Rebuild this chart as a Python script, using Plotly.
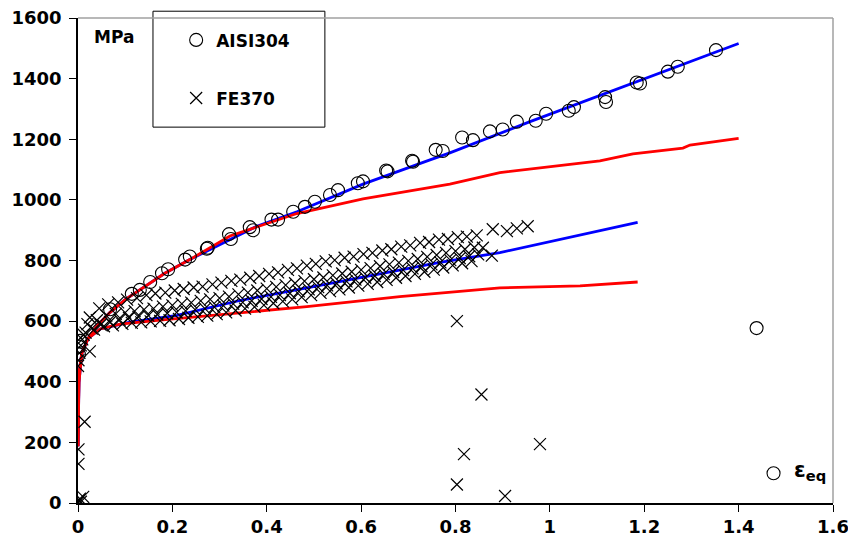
import plotly.graph_objects as go

# AISI304 measured points (equivalent strain, stress MPa)
aisi_eps = [0.002, 0.002, 0.004, 0.068, 0.114, 0.131, 0.153, 0.178, 0.191, 0.227,
            0.237, 0.273, 0.275, 0.320, 0.324, 0.364, 0.371, 0.410, 0.424, 0.456,
            0.481, 0.502, 0.534, 0.551, 0.593, 0.604, 0.653, 0.656, 0.708, 0.710,
            0.758, 0.773, 0.814, 0.837, 0.873, 0.900, 0.930, 0.970, 0.992, 1.040,
            1.051, 1.117, 1.119, 1.184, 1.191, 1.250, 1.271, 1.352, 1.438, 1.474]
aisi_sig = [490, 516, 535, 639, 690, 703, 729, 758, 771, 803,
            813, 839, 842, 887, 871, 910, 900, 935, 935, 961,
            977, 994, 1016, 1032, 1055, 1061, 1097, 1094, 1129, 1126,
            1165, 1161, 1206, 1197, 1226, 1232, 1258, 1261, 1284, 1294,
            1306, 1339, 1323, 1387, 1384, 1423, 1439, 1494, 577, 98]

# FE370 measured points
fe_eps = [0.000, 0.002, 0.004, 0.006, 0.011, 0.001, 0.001, 0.014, 0.000, 0.001,
          0.003, 0.006, 0.009, 0.012, 0.025,
          0.016, 0.020, 0.025, 0.029, 0.034, 0.040, 0.045, 0.048,
          0.055, 0.060, 0.064, 0.068, 0.074, 0.080, 0.085, 0.088,
          0.094, 0.100, 0.104, 0.108, 0.114, 0.120, 0.125, 0.128,
          0.134, 0.140, 0.145, 0.149, 0.154, 0.160, 0.164, 0.168,
          0.174, 0.180, 0.185, 0.189, 0.194, 0.200, 0.205, 0.209,
          0.214, 0.220, 0.224, 0.228, 0.234, 0.240, 0.245, 0.248,
          0.254, 0.260, 0.264, 0.269, 0.274, 0.280, 0.285, 0.289,
          0.294, 0.300, 0.304, 0.308, 0.314, 0.320, 0.325, 0.329,
          0.334, 0.340, 0.344, 0.349, 0.354, 0.360, 0.365, 0.368,
          0.374, 0.380, 0.384, 0.389, 0.394, 0.400, 0.405, 0.409,
          0.414, 0.420, 0.424, 0.428, 0.434, 0.440, 0.445, 0.449,
          0.454, 0.460, 0.464, 0.468, 0.474, 0.480, 0.485, 0.489,
          0.494, 0.500, 0.504, 0.509, 0.514, 0.520, 0.525, 0.528,
          0.534, 0.540, 0.544, 0.548, 0.554, 0.560, 0.565, 0.569,
          0.574, 0.580, 0.584, 0.588, 0.594, 0.600, 0.605, 0.609,
          0.614, 0.620, 0.624, 0.629, 0.634, 0.640, 0.645, 0.648,
          0.654, 0.660, 0.664, 0.668, 0.674, 0.680, 0.685, 0.689,
          0.694, 0.700, 0.704, 0.709, 0.714, 0.720, 0.725, 0.728,
          0.734, 0.740, 0.744, 0.749, 0.754, 0.760, 0.765, 0.768,
          0.774, 0.780, 0.784, 0.789, 0.794, 0.800, 0.805, 0.809,
          0.814, 0.820, 0.824, 0.829, 0.834, 0.840, 0.845, 0.848,
          0.858, 0.877, 0.879, 0.909, 0.930, 0.953,
          0.803, 0.855, 0.818, 0.803, 0.979, 0.905]
fe_sig = [2, 8, 14, 4, 20, 129, 177, 268, 452, 471,
          495, 520, 540, 555, 500,
          562, 590, 612, 575, 572, 603, 642, 588,
          583, 618, 655, 597, 586, 624, 662, 604,
          591, 628, 671, 611, 594, 633, 676, 614,
          596, 638, 686, 618, 599, 641, 691, 622,
          601, 648, 694, 626, 603, 652, 701, 629,
          607, 657, 706, 634, 611, 661, 711, 638,
          614, 667, 714, 641, 618, 672, 721, 646,
          623, 676, 727, 651, 629, 681, 733, 657,
          635, 688, 737, 662, 641, 694, 743, 667,
          647, 701, 749, 673, 653, 707, 756, 680,
          659, 713, 761, 686, 665, 719, 769, 692,
          672, 725, 774, 698, 679, 732, 783, 705,
          686, 738, 789, 712, 693, 744, 797, 718,
          699, 751, 801, 724, 705, 757, 809, 731,
          711, 763, 813, 737, 717, 769, 821, 743,
          723, 775, 825, 749, 729, 781, 833, 755,
          736, 787, 837, 762, 743, 793, 846, 768,
          749, 799, 850, 774, 756, 805, 858, 781,
          763, 812, 861, 787, 770, 818, 869, 794,
          777, 825, 871, 801, 784, 831, 877, 808,
          791, 837, 879, 814, 798, 843, 883, 820,
          842, 816, 903, 897, 906, 913,
          600, 358, 161, 61, 194, 23]

# model curves: blue and red, for each steel
aisi_blue_eps = [0.0, 0.001, 0.002, 0.008, 0.021, 0.040, 0.068, 0.100, 0.142, 0.184,
                 0.237, 0.379, 0.464, 0.604, 0.746, 0.788, 0.958, 1.169, 1.297, 1.400]
aisi_blue_sig = [187, 332, 429, 494, 542, 584, 629, 671, 716, 758,
                 803, 913, 961, 1052, 1132, 1155, 1258, 1381, 1455, 1516]
aisi_red_eps = [0.0, 0.001, 0.002, 0.008, 0.021, 0.040, 0.068, 0.100, 0.142, 0.184,
                0.237, 0.322, 0.464, 0.604, 0.788, 0.894, 1.106, 1.176, 1.282, 1.297, 1.400]
aisi_red_sig = [187, 332, 429, 494, 542, 584, 629, 671, 716, 758,
                803, 881, 955, 1003, 1052, 1090, 1129, 1152, 1171, 1181, 1203]
fe_blue_eps = [0.0, 0.002, 0.008, 0.021, 0.047, 0.110, 0.210, 0.343, 0.485, 0.625,
               0.767, 0.894, 1.064, 1.186]
fe_blue_sig = [187, 397, 494, 542, 574, 597, 619, 668, 710, 752,
               794, 826, 884, 926]
fe_red_eps = [0.0, 0.002, 0.008, 0.021, 0.047, 0.089, 0.174, 0.316, 0.485, 0.682,
              0.894, 1.064, 1.186]
fe_red_sig = [187, 397, 494, 542, 574, 590, 603, 623, 648, 681,
              710, 716, 729]

BLUE = "#0000ff"
RED = "#ff0000"
FONT = "DejaVu Sans, Arial, sans-serif"

fig = go.Figure()

for xs, ys, col in [(aisi_blue_eps, aisi_blue_sig, BLUE), (fe_blue_eps, fe_blue_sig, BLUE),
                    (aisi_red_eps, aisi_red_sig, RED), (fe_red_eps, fe_red_sig, RED)]:
    fig.add_trace(go.Scatter(x=xs, y=ys, mode="lines", line=dict(color=col, width=2.8),
                             showlegend=False, hoverinfo="skip"))

fig.add_trace(go.Scatter(
    x=aisi_eps, y=aisi_sig, mode="markers", name="AISI304", legendgroup="a",
    marker=dict(symbol="circle-open", size=13, color="black", line=dict(width=1.1)),
))
fig.add_trace(go.Scatter(
    x=fe_eps, y=fe_sig, mode="markers", name="FE370", legendgroup="b",
    marker=dict(symbol="x-thin-open", size=12, color="black", line=dict(width=1.2, color="black")),
))

# grey top/right frame
fig.add_shape(type="line", xref="paper", yref="paper", x0=0, x1=1, y0=1, y1=1,
              line=dict(color="#a0a0a0", width=1.5))
fig.add_shape(type="line", xref="paper", yref="paper", x0=1, x1=1, y0=0, y1=1,
              line=dict(color="#a0a0a0", width=1.5))
# legend box
fig.add_shape(type="rect", xref="paper", yref="paper", x0=0.0993, x1=0.327, y0=0.775, y1=1.014,
              line=dict(color="black", width=1), fillcolor="white", layer="below")

fig.add_annotation(text="MPa", xref="paper", yref="paper", x=0.0185, y=0.961,
                   xanchor="left", yanchor="middle", showarrow=False,
                   font=dict(family=FONT, size=17, color="black", weight="bold"))
fig.add_annotation(text="\u03b5<sub>eq</sub>", xref="paper", yref="paper", x=0.9457, y=0.066,
                   xanchor="left", yanchor="middle", showarrow=False,
                   font=dict(family=FONT, size=21, color="black", weight="bold"))

# the page body adds an 8px offset, so the figure is 8px smaller and margins shifted
fig.update_layout(
    width=848, height=548,
    margin=dict(l=70, r=23, t=10, b=53, autoexpand=False),
    paper_bgcolor="white", plot_bgcolor="white",
    font=dict(family=FONT, color="black"),
    showlegend=True,
    legend=dict(x=0.13, y=0.991, xanchor="left", yanchor="top",
                bgcolor="rgba(0,0,0,0)", borderwidth=0,
                font=dict(family=FONT, size=17, color="black", weight="bold"),
                traceorder="grouped", tracegroupgap=33, itemwidth=30),
    xaxis=dict(range=[0, 1.6], dtick=0.2, tick0=0, showgrid=False, zeroline=False,
               showline=True, linecolor="black", linewidth=1.5,
               ticks="outside", ticklen=7, tickcolor="black", automargin=False,
               ticklabeloverflow="allow",
               tickfont=dict(family=FONT, size=18, color="black", weight="bold")),
    yaxis=dict(range=[0, 1600], dtick=200, tick0=0, showgrid=False, zeroline=False,
               showline=True, linecolor="black", linewidth=1.5,
               ticks="outside", ticklen=7, tickcolor="black", ticklabelstandoff=4,
               automargin=False, ticklabeloverflow="allow",
               tickfont=dict(family=FONT, size=18, color="black", weight="bold")),
)

fig.write_html("out.html")
